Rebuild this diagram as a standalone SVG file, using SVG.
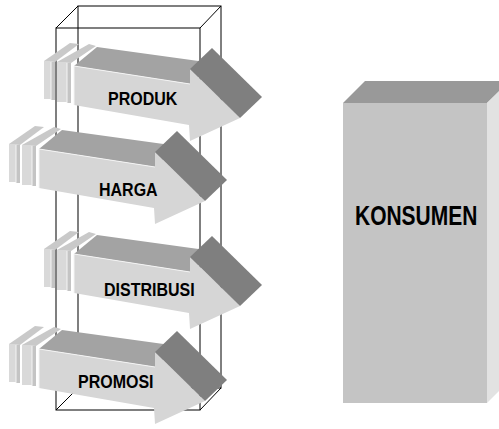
<svg xmlns="http://www.w3.org/2000/svg" xmlns:xlink="http://www.w3.org/1999/xlink" width="499" height="429" viewBox="0 0 499 429">
<style>
.wire{fill:none;stroke:#000;stroke-width:1}
.top{fill:#a3a3a3}
.front{fill:#d6d6d6}
.dark{fill:#7f7f7f}
.slab{fill:#d9d9d9}
.slabside{fill:#c4c4c4}
.slabtop{fill:#c9c9c9}
.hl{fill:none;stroke:#f4f4f4;stroke-width:1}
.lbl{font-family:"Liberation Sans",Arial,sans-serif;font-weight:bold;font-size:16px;fill:#000}
.big{font-family:"Liberation Sans",Arial,sans-serif;font-weight:bold;font-size:21px;fill:#000}
</style>
<defs>
<g id="arrow">
<polygon class="slabtop" points="44,61 55,62 79,44 70,43"/>
<polygon class="slabtop" points="57,62 71,63 96,46 89,44"/>
<rect class="slab" x="44" y="61" width="7" height="38"/>
<rect class="slabside" x="51" y="62" width="4" height="38"/>
<rect class="slab" x="57" y="62" width="10" height="40"/>
<rect class="slabside" x="67" y="63" width="4" height="40"/>
<polyline class="hl" points="51,62 51,100"/>
<polyline class="hl" points="67,63 67,103"/>
<polygon class="top" points="74,66 97,47 213,63 190,84"/>
<polygon class="front" points="74,66 190,84 190,69 240,118 190,141 189,125 74,105"/>
<polygon class="dark" points="190,69 212,48 262,97 240,118"/>
<polyline class="hl" points="74,105 74,66 190,84"/>
</g>
</defs>
<g id="frame" class="wire">
<rect x="56" y="28" width="144" height="382"/>
<rect x="78" y="6" width="143" height="382"/>
<line x1="56" y1="28" x2="78" y2="6"/>
<line x1="200" y1="28" x2="221" y2="6"/>
<line x1="56" y1="410" x2="78" y2="388"/>
<line x1="200" y1="410" x2="221" y2="388"/>
</g>
<g id="connectors"></g>
<g id="produk">
<use xlink:href="#arrow"/>
<text class="lbl" transform="translate(108,105) scale(1,1.13)">PRODUK</text>
</g>
<g id="harga">
<use xlink:href="#arrow" transform="translate(-35,83)"/>
<text class="lbl" transform="translate(99,196) scale(1,1.13)">HARGA</text>
</g>
<g id="distribusi">
<use xlink:href="#arrow" transform="translate(0,188)"/>
<text class="lbl" transform="translate(104,296) scale(1,1.13)">DISTRIBUSI</text>
</g>
<g id="promosi">
<use xlink:href="#arrow" transform="translate(-35,283)"/>
<text class="lbl" transform="translate(78,388) scale(1,1.13)">PROMOSI</text>
</g>
<g id="konsumen">
<polygon fill="#999999" points="343,103 365,81 510,81 487,103"/>
<polygon fill="#e2e2e2" points="487,103 509,81 509,381 487,403"/>
<rect x="343" y="103" width="144" height="300" fill="#c4c4c4"/>
<text class="big" transform="translate(355,225) scale(1,1.33)">KONSUMEN</text>
</g>
</svg>
